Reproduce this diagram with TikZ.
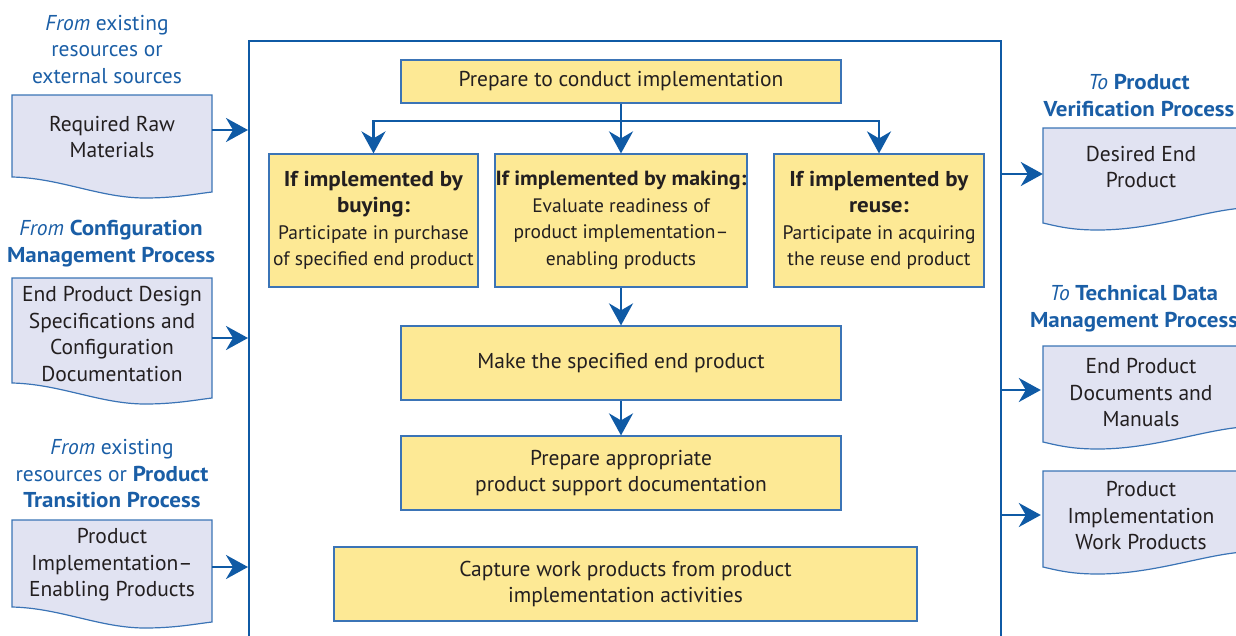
\documentclass[tikz,border=0pt]{standalone}
\usepackage{fontspec}
\setmainfont{PT Sans}[BoldFeatures={FakeStretch=1.07},BoldItalicFeatures={FakeStretch=1.07}]
\usetikzlibrary{arrows.meta,calc}
\definecolor{nblue}{HTML}{0F5AA5}
\definecolor{ntext}{HTML}{1A5EA6}
\definecolor{nyellow}{HTML}{FDE995}
\definecolor{nlav}{HTML}{E1E3F2}
\definecolor{nbord}{HTML}{3B74B6}
\definecolor{ndark}{HTML}{231F20}
\newcommand\myfs{\fontsize{21.5}{26.5}\selectfont}
\newcommand\brfs{\fontsize{19.5}{26.5}\selectfont}
\newcommand\bigb[1]{{\fontsize{21.5}{26.5}\selectfont\textbf{#1}}}
\newcommand\midb[1]{{\fontsize{20.5}{26.5}\selectfont\textbf{#1}}}
\newcommand\docLshape[3]{\begin{scope}[shift={(#1,#2)}]
  \path[docshape] (0,0) -- (200,0) -- (200,#3+15) .. controls (183,#3+17) and (163,#3+21) .. (133,#3+21) .. controls (88,#3+21) and (48,#3+1) .. (0,#3) -- cycle;
\end{scope}}
\newcommand\docRshape[3]{\begin{scope}[shift={(#1,#2)}]
  \path[docshape] (0,0) -- (0,#3) .. controls (17,#3+4) and (30,#3+7) .. (55,#3+7) .. controls (110,#3+7) and (160,#3-12) .. (200,#3-15) -- (200,0) -- cycle;
\end{scope}}
\begin{document}
\begin{tikzpicture}[x=1pt,y=-1pt,
  conn/.style={draw=nblue, line width=2.5pt, -{Stealth[length=22pt,width=24pt,inset=7pt]}},
  line/.style={draw=nblue, line width=2.5pt},
  ybox/.style={draw=nbord, line width=1.2pt, fill=nyellow, align=center, inner sep=0pt, text=ndark, font=\myfs},
  brbox/.style={ybox, font=\brfs},
  docshape/.style={draw=nbord, line width=1.2pt, fill=nlav},
  docbox/.style={inner sep=0pt, align=center, text=ndark, font=\myfs, minimum width=200pt},
  head/.style={align=center, text=ntext, font=\myfs, inner sep=0pt},
  framebox/.style={draw=nblue, line width=2pt, inner sep=0pt}
]
\useasboundingbox (0,0) rectangle (1236,635);
\clip (0,0) rectangle (1236,635);

% frame
\node[framebox, minimum width=752pt, minimum height=619pt] (frame) at (625,350.5) {};

% process boxes
\node[ybox, minimum width=440pt, minimum height=43pt] (prep) at (621,81.5) {\strut Prepare to conduct implementation};
\node[brbox, minimum width=209pt, minimum height=133pt] (buy) at (373.5,220.5)
  {\bigb{If implemented by}\\\bigb{buying:}\\Participate in purchase\\of specified end product};
\node[brbox, minimum width=252pt, minimum height=133pt] (making) at (621,220.5)
  {\midb{If implemented by making:}\\Evaluate readiness of\\product implementation–\\enabling products};
\node[brbox, minimum width=210pt, minimum height=133pt] (reuse) at (879,220.5)
  {\bigb{If implemented by}\\\bigb{reuse:}\\Participate in acquiring\\the reuse end product};
\node[ybox, minimum width=440pt, minimum height=74pt] (mk) at (621,363) {\strut Make the specified end product};
\node[ybox, minimum width=440pt, minimum height=74pt] (supp) at (621,473) {Prepare appropriate\\product support documentation};
\node[ybox, minimum width=583pt, minimum height=74pt] (cap) at (625.5,584) {Capture work products from product\\implementation activities};

% internal connectors
\coordinate (br) at (621,121);
\draw[line] (prep.south) -- (br);
\draw[conn] (br) -| (buy.north);
\draw[conn] (br) -| (reuse.north);
\draw[conn] (br) -- (making.north);
\draw[conn] (making.south) -- (mk.north);
\draw[conn] (mk.south) -- (supp.north);

% left documents
\docLshape{12}{95}{82}
\docLshape{12}{278}{105}
\docLshape{12}{520}{87}
\node[docbox, minimum height=82pt] (d1) at (112,137) {Required Raw\\Materials};
\node[docbox, minimum height=105pt] (d2) at (112,334) {End Product Design\\Specifications and\\Configuration\\Documentation};
\node[docbox, minimum height=87pt] (d3) at (112,565) {Product\\Implementation–\\Enabling Products};

\node[head] (h1) at (107,49.5) {\textit{From} existing\\resources or\\external sources};
\node[head] (h2) at (111,243.5) {\textit{From} \textbf{Configuration}\\\textbf{Management Process}};
\node[head] (h3) at (112,474) {\textit{From} existing\\resources or \textbf{Product}\\\textbf{Transition Process}};

\draw[conn] ($(d1.east)+(0,-7)$) -- ($(d1.east -| frame.west)+(0,-7)$);
\draw[conn] ($(d2.east)+(0,4)$) -- ($(d2.east -| frame.west)+(0,4)$);
\draw[conn] ($(d3.east)+(0,2)$) -- ($(d3.east -| frame.west)+(0,2)$);

% right documents
\docRshape{1043}{128}{95}
\docRshape{1043}{346}{96}
\docRshape{1043}{471}{96}
\node[docbox, minimum height=95pt] (r1) at (1143,175.5) {};
\node[docbox] (r1t) at (1141,167) {Desired End\\Product};
\node[docbox, minimum height=96pt] (r2) at (1141,393) {End Product\\Documents and\\Manuals};
\node[docbox, minimum height=96pt] (r3) at (1141,516) {Product\\Implementation\\Work Products};

\node[head] (h4) at (1139,95.5) {\textit{To} \textbf{Product}\\\textbf{Verification Process}};
\node[head] (h5) at (1134,308.5) {\textit{To} \textbf{Technical Data}\\\textbf{Management Process}};

\draw[conn] ($(r1.west -| frame.east)+(0,-1.5)$) -- ($(r1.west)+(0,-1.5)$);
\draw[conn] ($(r2.west -| frame.east)+(0,-3)$) -- ($(r2.west)+(0,-3)$);
\draw[conn] ($(r3.west -| frame.east)+(0,-1)$) -- ($(r3.west)+(0,-1)$);
\end{tikzpicture}
\end{document}
